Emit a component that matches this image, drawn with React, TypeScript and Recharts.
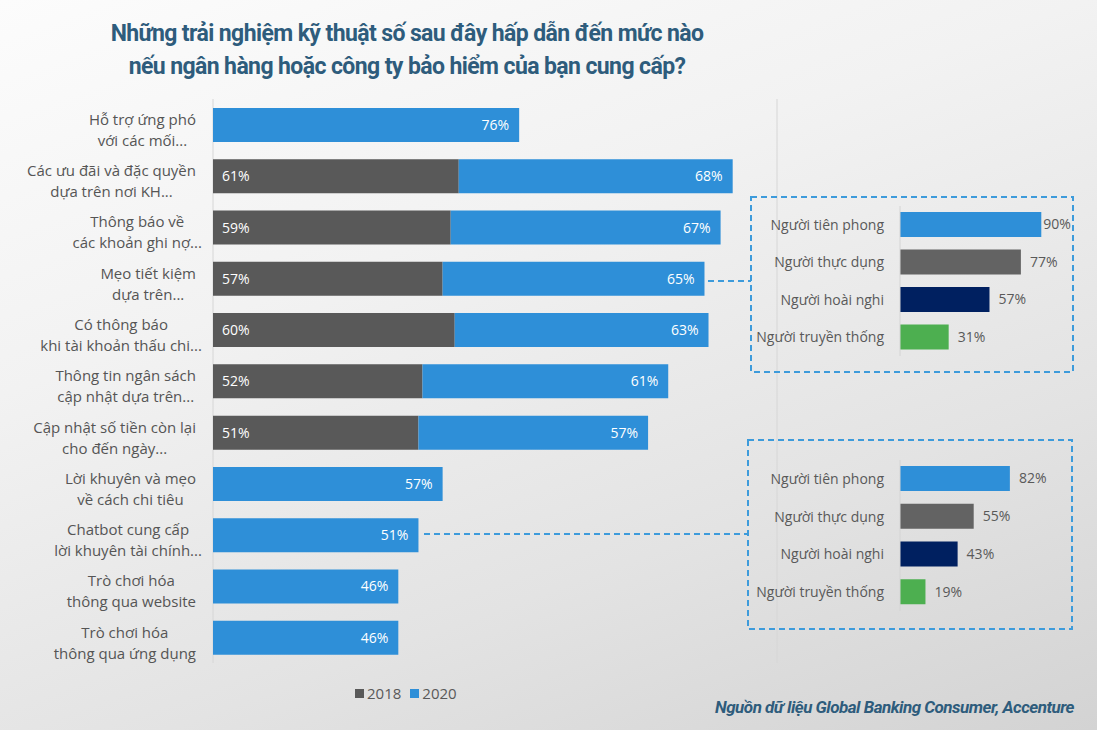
import { BarChart, Bar, XAxis, YAxis, CartesianGrid, LabelList, Legend, Cell } from 'recharts';

// 주요 차트 데이터
const categories = [
  'Hỗ trợ ứng phó\nvới các mối...',
  'Các ưu đãi và đặc quyền\ndựa trên nơi KH...',
  'Thông báo về\ncác khoản ghi nợ...',
  'Mẹo tiết kiệm\ndựa trên...',
  'Có thông báo\nkhi tài khoản thấu chi...',
  'Thông tin ngân sách\ncập nhật dựa trên...',
  'Cập nhật số tiền còn lại\ncho đến ngày...',
  'Lời khuyên và mẹo\nvề cách chi tiêu',
  'Chatbot cung cấp\nlời khuyên tài chính...',
  'Trò chơi hóa\nthông qua website',
  'Trò chơi hóa\nthông qua ứng dụng',
];
const values2018 = [null, 61, 59, 57, 60, 52, 51, null, null, null, null];
const values2020 = [76, 68, 67, 65, 63, 61, 57, 57, 51, 46, 46];
const xTicks = [0, 20, 40, 60, 80, 100, 120, 140];

// 고객 유형별 데이터 (두 개의 작은 차트)
const segments = ['Người tiên phong', 'Người thực dụng', 'Người hoài nghi', 'Người truyền thống'];
const segmentColors = ['#2E8FD8', '#636363', '#002060', '#4DAF50'];
const savingTipsBySegment = [90, 77, 57, 31];
const chatbotBySegment = [82, 55, 43, 19];

const BLUE = '#2E8FD8';
const GRAY = '#595959';
const FONT = '"Open Sans", "Noto Sans", sans-serif';

const mainData = categories.map((name, i) => ({
  name,
  y2018: values2018[i],
  y2020: values2020[i],
}));

const savingData = segments.map((name, i) => ({ name, value: savingTipsBySegment[i] }));
const chatbotData = segments.map((name, i) => ({ name, value: chatbotBySegment[i] }));

let ctx: CanvasRenderingContext2D | null = null;
const measure = (s: string) => {
  if (!ctx) ctx = document.createElement('canvas').getContext('2d');
  if (!ctx) return s.length * 7;
  ctx.font = `15px ${FONT}`;
  return ctx.measureText(s).width;
};

// 두 줄 레이블: 블록은 오른쪽 정렬, 각 줄은 가운데 정렬
const CategoryTick = (props: any) => {
  const { x, y, payload } = props;
  const lines: string[] = String(payload.value).split('\n');
  const w = Math.max(...lines.map((l) => measure(l.replace(/\.\.\.$/, ''))));
  const cx = x - w / 2;
  return (
    <text x={cx} y={y} textAnchor="middle" fill="#555" fontSize={15} fontFamily={FONT}>
      <tspan x={cx} y={y - 5} dy="0.35em">{lines[0]}</tspan>
      <tspan x={cx} y={y + 16} dy="0.35em">{lines[1]}</tspan>
    </text>
  );
};

const LegendContent = () => (
  <div style={{ display: 'flex', gap: 9, fontFamily: FONT, fontSize: 15, color: '#595959' }}>
    <span style={{ display: 'flex', alignItems: 'center' }}>
      <span style={{ width: 9, height: 9, background: GRAY, marginRight: 3, display: 'inline-block' }} />2018
    </span>
    <span style={{ display: 'flex', alignItems: 'center' }}>
      <span style={{ width: 9, height: 9, background: BLUE, marginRight: 3, display: 'inline-block' }} />2020
    </span>
  </div>
);

const pct = (v: any) => (v == null ? '' : `${v}%`);

const SegmentLabel = (props: any) => {
  const { x, y, width, height, value } = props;
  const gap = value >= 85 ? 2 : 9;
  return (
    <text x={x + width + gap} y={y + height / 2} dy="0.35em" fill="#595959" fontSize={14} fontFamily={FONT}>
      {value}%
    </text>
  );
};

const SegmentChart = ({ data, left, top, width, height, axisWidth, margin }: any) => (
  <div style={{ position: 'absolute', left, top }}>
    <BarChart width={width} height={height} data={data} layout="vertical" margin={margin}>
      <XAxis type="number" domain={[0, 100]} hide />
      <YAxis
        type="category"
        dataKey="name"
        width={axisWidth}
        axisLine={{ stroke: '#d4d4d4' }}
        tickLine={false}
        tickSize={6}
        tickMargin={10}
        tick={{ fill: '#595959', fontSize: 14, fontFamily: FONT }}
      />
      <Bar dataKey="value" barSize={25} isAnimationActive={false}>
        {data.map((_: any, i: number) => (
          <Cell key={i} fill={segmentColors[i]} />
        ))}
        <LabelList dataKey="value" content={SegmentLabel} />
      </Bar>
    </BarChart>
  </div>
);

export default function App() {
  return (
    <div
      style={{
        position: 'absolute',
        left: 0,
        top: 0,
        width: 1097,
        height: 730,
        overflow: 'hidden',
        background: 'linear-gradient(160deg, #fcfcfc 0%, #f2f2f2 35%, #e3e3e3 70%, #d3d3d3 100%)',
        fontFamily: FONT,
      }}
    >
      <div
        style={{
          position: 'absolute',
          left: 0,
          top: 17,
          width: 814,
          textAlign: 'center',
          color: '#2E5C7C',
          fontWeight: 700,
          fontSize: 23,
          lineHeight: '33px',
          letterSpacing: -0.6,
          fontFamily: 'Roboto, "Open Sans", sans-serif',
        }}
      >
        Những trải nghiệm kỹ thuật số sau đây hấp dẫn đến mức nào
        <br />
        nếu ngân hàng hoặc công ty bảo hiểm của bạn cung cấp?
      </div>

      <div style={{ position: 'absolute', left: 0, top: 0 }}>
        <BarChart
          width={1097}
          height={730}
          data={mainData}
          layout="vertical"
          margin={{ top: 99, right: 320, bottom: 47, left: 0 }}
          barSize={34}
        >
          <CartesianGrid horizontal={false} stroke="#d6d6d6" />
          <XAxis type="number" domain={[0, 140]} ticks={xTicks} tick={false} axisLine={false} tickLine={false} height={0} />
          <YAxis
            type="category"
            dataKey="name"
            width={213}
            axisLine={false}
            tickLine={false}
            tickSize={6}
            tickMargin={11}
            tick={<CategoryTick />}
            interval={0}
          />
          <Legend
            verticalAlign="bottom"
            content={<LegendContent />}
            wrapperStyle={{ left: 355, top: 683, width: 'auto', bottom: 'auto' }}
          />
          <Bar dataKey="y2018" name="2018" stackId="a" fill={GRAY} isAnimationActive={false}>
            <LabelList dataKey="y2018" position="insideLeft" offset={9} fill="#fff" fontSize={14} fontFamily={FONT} formatter={pct} />
          </Bar>
          <Bar dataKey="y2020" name="2020" stackId="a" fill={BLUE} isAnimationActive={false}>
            <LabelList dataKey="y2020" position="insideRight" offset={10} fill="#fff" fontSize={14} fontFamily={FONT} formatter={pct} />
          </Bar>
        </BarChart>
      </div>

      <svg width={1097} height={730} style={{ position: 'absolute', left: 0, top: 0, pointerEvents: 'none' }}>
        <g fill="none" stroke="#3D9BDB" strokeWidth={2} strokeDasharray="6 4">
          <rect x={751} y={197} width={322} height={175} />
          <rect x={748} y={440} width={324} height={189} />
          <line x1={708} y1={281} x2={751} y2={281} />
          <line x1={424} y1={534} x2={748} y2={534} />
        </g>
      </svg>

      <SegmentChart
        data={savingData}
        left={751}
        top={197}
        width={322}
        height={175}
        axisWidth={149}
        margin={{ top: 9, right: 16, bottom: 16, left: 0 }}
      />
      <SegmentChart
        data={chatbotData}
        left={748}
        top={440}
        width={324}
        height={189}
        axisWidth={152}
        margin={{ top: 20, right: 38, bottom: 18, left: 0 }}
      />

      <div
        style={{
          position: 'absolute',
          right: 23,
          top: 697,
          color: '#2E5C7C',
          fontWeight: 700,
          fontStyle: 'italic',
          fontSize: 17,
          letterSpacing: -0.5,
          fontFamily: 'Roboto, "Open Sans", sans-serif',
        }}
      >
        Nguồn dữ liệu Global Banking Consumer, Accenture
      </div>
    </div>
  );
}
